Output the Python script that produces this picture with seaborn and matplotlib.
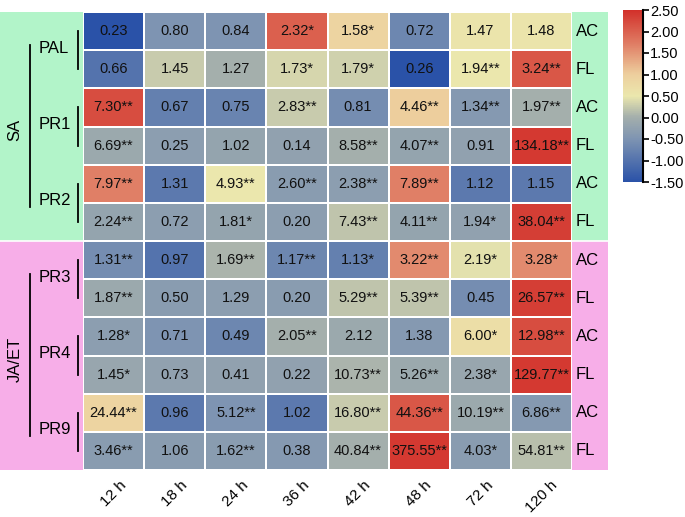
import numpy as np
import pandas as pd
import seaborn as sns
import matplotlib.pyplot as plt
from matplotlib.colors import LinearSegmentedColormap
from matplotlib.patches import Rectangle

times = ['12 h', '18 h', '24 h', '36 h', '42 h', '48 h', '72 h', '120 h']
tissues = ['AC', 'FL'] * 6
groups = ['PAL', 'PR1', 'PR2', 'PR3', 'PR4', 'PR9']
regions = ['SA', 'JA/ET']

# fold changes shown in cells
labels = [
    ['0.23', '0.80', '0.84', '2.32*', '1.58*', '0.72', '1.47', '1.48'],
    ['0.66', '1.45', '1.27', '1.73*', '1.79*', '0.26', '1.94**', '3.24**'],
    ['7.30**', '0.67', '0.75', '2.83**', '0.81', '4.46**', '1.34**', '1.97**'],
    ['6.69**', '0.25', '1.02', '0.14', '8.58**', '4.07**', '0.91', '134.18**'],
    ['7.97**', '1.31', '4.93**', '2.60**', '2.38**', '7.89**', '1.12', '1.15'],
    ['2.24**', '0.72', '1.81*', '0.20', '7.43**', '4.11**', '1.94*', '38.04**'],
    ['1.31**', '0.97', '1.69**', '1.17**', '1.13*', '3.22**', '2.19*', '3.28*'],
    ['1.87**', '0.50', '1.29', '0.20', '5.29**', '5.39**', '0.45', '26.57**'],
    ['1.28*', '0.71', '0.49', '2.05**', '2.12', '1.38', '6.00*', '12.98**'],
    ['1.45*', '0.73', '0.41', '0.22', '10.73**', '5.26**', '2.38*', '129.77**'],
    ['24.44**', '0.96', '5.12**', '1.02', '16.80**', '44.36**', '10.19**', '6.86**'],
    ['3.46**', '1.06', '1.62**', '0.38', '40.84**', '375.55**', '4.03*', '54.81**'],
]

# colour scale values
scores = [
    [-1.5, -0.5, -0.5, 2.0, 0.9, -0.7, 0.55, 0.55],
    [-1.0, 0.25, 0.0, 0.35, 0.3, -1.5, 0.5, 2.1],
    [2.2, -0.8, -0.75, 0.25, -0.6, 1.0, -0.4, 0.0],
    [-0.1, -0.3, -0.2, -0.25, 0.0, -0.2, -0.25, 2.4],
    [1.7, -0.9, 0.5, -0.35, -0.3, 1.7, -0.9, -0.9],
    [-0.2, -0.3, -0.2, -0.3, 0.2, -0.2, -0.25, 2.35],
    [-0.6, -1.0, 0.05, -0.7, -0.8, 1.6, 0.45, 1.6],
    [-0.1, -0.35, -0.3, -0.35, 0.2, 0.2, -0.6, 2.35],
    [-0.3, -0.5, -0.7, 0.0, -0.1, -0.4, 0.7, 2.2],
    [-0.15, -0.25, -0.25, -0.25, 0.05, -0.1, -0.15, 2.4],
    [0.9, -0.9, -0.5, -0.9, 0.25, 2.1, -0.1, -0.4],
    [-0.35, -0.35, -0.35, -0.4, 0.0, 2.4, -0.35, 0.15],
]

region_colors = ['#b2f4c9', '#f7aee8']

cmap = LinearSegmentedColormap.from_list('custom', [
    (0.0, '#2a52a8'),
    (0.25, '#7e94b2'),
    (0.375, '#a3aeac'),
    (0.5, '#ebe7ad'),
    (0.625, '#edcf9e'),
    (0.8, '#e07f66'),
    (1.0, '#d2302a'),
])

plt.rcParams['font.family'] = ['Liberation Sans', 'DejaVu Sans']

W, H = 685, 517
fig = plt.figure(figsize=(W / 100, H / 100), dpi=100)


def px_axes(x0, y0, x1, y1):
    return fig.add_axes([x0 / W, 1 - y1 / H, (x1 - x0) / W, (y1 - y0) / H])


ax = px_axes(83, 12, 572, 470)
cax = px_axes(623, 10, 643, 182)

df = pd.DataFrame(scores, columns=times)
sns.heatmap(df, ax=ax, cmap=cmap, vmin=-1.5, vmax=2.5,
            annot=np.array(labels), fmt='', annot_kws={'fontsize': 10.5, 'color': '#111111'},
            linewidths=1.2, linecolor='white', cbar_ax=cax,
            cbar_kws={'ticks': np.arange(-1.5, 2.51, 0.5), 'format': '%.2f'})
ax.set_yticks([])
ax.set_ylabel('')
ax.set_xticks(np.arange(len(times)) + 0.5)
ax.set_xticklabels(times, rotation=45, ha='center', fontsize=11)
ax.tick_params(axis='x', length=0, pad=6)

cbar = ax.collections[0].colorbar
cbar.outline.set_visible(False)
cax.plot([1, 1], [-1.5, 2.5], color='black', lw=1.5, clip_on=False)
cax.tick_params(labelsize=10.5, length=4, width=1.2, pad=1)

# left annotation band
lax = px_axes(0, 12, 83, 470)
lax.set_xlim(0, 83)
lax.set_ylim(12, 0)
lax.axis('off')
for i, reg in enumerate(regions):
    lax.add_patch(Rectangle((0, i * 6), 83, 6, color=region_colors[i], lw=0))
    lax.text(15, i * 6 + 3.1, reg, rotation=90, ha='center', va='center', fontsize=12)
    lax.plot([30, 30], [i * 6 + 0.87, i * 6 + 5.1], color='black', lw=1.3)
for j, g in enumerate(groups):
    c = j * 2 + 1
    lax.text(39, c - 0.05, g, ha='left', va='center', fontsize=12)
    lax.plot([78, 78], [c - 0.5, c + 0.5], color='black', lw=1.3)
lax.plot([0, 83], [6, 6], color='white', lw=1.2)

# right tissue labels
rax = px_axes(572, 12, 608, 470)
rax.set_xlim(0, 36)
rax.set_ylim(12, 0)
rax.axis('off')
for i in range(2):
    rax.add_patch(Rectangle((0, i * 6), 36, 6, color=region_colors[i], lw=0))
rax.plot([0, 36], [6, 6], color='white', lw=1.2)
for r, t in enumerate(tissues):
    rax.text(4, r + 0.5, t, ha='left', va='center', fontsize=12)

fig.savefig('out.png', dpi=100)
